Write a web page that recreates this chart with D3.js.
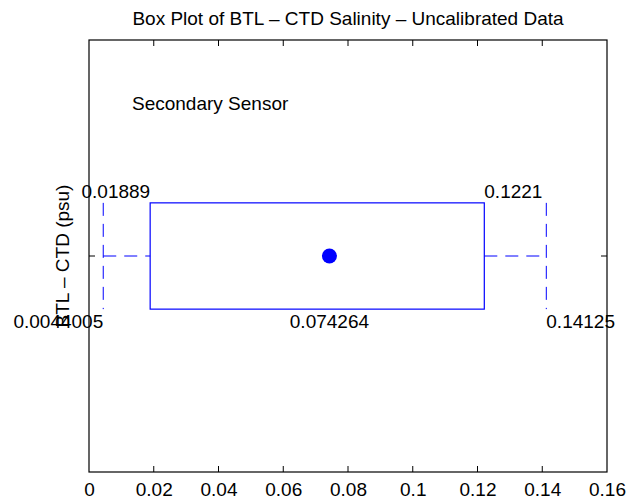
<!DOCTYPE html>
<html>
<head>
<meta charset="utf-8">
<script src="https://cdn.jsdelivr.net/npm/d3@7"></script>
<style>
  body { margin: 0; background: #fff; }
  svg text { font-family: "Liberation Sans", Arial, Helvetica, sans-serif; fill: #000; }
</style>
</head>
<body>
<div id="chart"></div>
<script>
const title = "Box Plot of BTL \u2013 CTD Salinity \u2013 Uncalibrated Data"
const yLabel = "BTL \u2013 CTD (psu)"
const sensorLabel = "Secondary Sensor"
const xTicks = [0, 0.02, 0.04, 0.06, 0.08, 0.1, 0.12, 0.14, 0.16]
const xTickLabels = ["0", "0.02", "0.04", "0.06", "0.08", "0.1", "0.12", "0.14", "0.16"]
const whiskerLow = 0.0044005
const quartileLow = 0.01889
const centerValue = 0.074264
const quartileHigh = 0.1221
const whiskerHigh = 0.14125
const statLabels = ["0.0044005", "0.01889", "0.074264", "0.1221", "0.14125"]

const width = 643
const height = 502
const margin = { top: 40, right: 36, bottom: 30, left: 89 }
const fontSize = 19
const blue = "#0000ff"

const svg = d3.select("#chart").append("svg")
  .attr("width", width)
  .attr("height", height)

const x = d3.scaleLinear().domain([0, 0.16]).range([margin.left, width - margin.right])
const y = d3.scaleLinear().domain([0, 1]).range([height - margin.bottom, margin.top])

const rowY = 0.5
const halfBox = 0.123

// axes box
svg.append("rect")
  .attr("x", x(0)).attr("y", y(1))
  .attr("width", x(0.16) - x(0)).attr("height", y(0) - y(1))
  .attr("fill", "none").attr("stroke", "#000").attr("stroke-width", 1.2)

const tickLen = 6
const bottomAxis = d3.axisBottom(x).tickValues(xTicks).tickSize(0).tickFormat((d, i) => xTickLabels[i]).tickPadding(11)
const gx = svg.append("g").attr("transform", `translate(0,${y(0)})`).call(bottomAxis)
gx.select(".domain").remove()
gx.selectAll("text").attr("font-size", fontSize).attr("font-family", null)

// inward ticks top & bottom
svg.append("g").selectAll("line")
  .data(xTicks.slice(1, -1))
  .join("line")
  .attr("x1", d => x(d)).attr("x2", d => x(d))
  .attr("y1", y(0)).attr("y2", y(0) - tickLen)
  .attr("stroke", "#000")
svg.append("g").selectAll("line")
  .data(xTicks.slice(1, -1))
  .join("line")
  .attr("x1", d => x(d)).attr("x2", d => x(d))
  .attr("y1", y(1)).attr("y2", y(1) + tickLen)
  .attr("stroke", "#000")

// y tick at row position, left & right
svg.append("g").selectAll("line")
  .data([[x(0), 1], [x(0.16), -1]])
  .join("line")
  .attr("x1", d => d[0]).attr("x2", d => d[0] + d[1] * tickLen)
  .attr("y1", y(rowY)).attr("y2", y(rowY))
  .attr("stroke", "#000")

// title
svg.append("text")
  .attr("x", (x(0) + x(0.16)) / 2).attr("y", 25)
  .attr("text-anchor", "middle").attr("font-size", fontSize)
  .text(title)

// y label
svg.append("text")
  .attr("transform", `translate(69,${y(rowY)}) rotate(-90)`)
  .attr("text-anchor", "middle").attr("font-size", fontSize)
  .text(yLabel)

svg.append("text")
  .attr("x", 132).attr("y", 110)
  .attr("font-size", fontSize)
  .text(sensorLabel)

const dash = "13,8"
const plot = svg.append("g")

// whiskers horizontal
plot.selectAll("line.wh")
  .data([[whiskerLow, quartileLow], [quartileHigh, whiskerHigh]])
  .join("line")
  .attr("class", "wh")
  .attr("x1", d => x(d[0])).attr("x2", d => x(d[1]))
  .attr("y1", y(rowY)).attr("y2", y(rowY))
  .attr("stroke", blue).attr("stroke-dasharray", dash)

// whisker caps vertical
plot.selectAll("line.cap")
  .data([whiskerLow, whiskerHigh])
  .join("line")
  .attr("class", "cap")
  .attr("x1", d => x(d)).attr("x2", d => x(d))
  .attr("y1", y(rowY + halfBox)).attr("y2", y(rowY - halfBox))
  .attr("stroke", blue).attr("stroke-dasharray", dash)

// box
plot.append("rect")
  .attr("x", x(quartileLow)).attr("y", y(rowY + halfBox))
  .attr("width", x(quartileHigh) - x(quartileLow))
  .attr("height", y(rowY - halfBox) - y(rowY + halfBox))
  .attr("fill", "none").attr("stroke", blue).attr("stroke-width", 1.2)

plot.append("circle")
  .attr("cx", x(centerValue)).attr("cy", y(rowY)).attr("r", 7.5)
  .attr("fill", blue)

// value labels
const labelData = [
  { v: whiskerLow, t: statLabels[0], anchor: "end", top: false },
  { v: quartileLow, t: statLabels[1], anchor: "end", top: true },
  { v: centerValue, t: statLabels[2], anchor: "middle", top: false },
  { v: quartileHigh, t: statLabels[3], anchor: "start", top: true },
  { v: whiskerHigh, t: statLabels[4], anchor: "start", top: false }
]
svg.append("g").selectAll("text")
  .data(labelData)
  .join("text")
  .attr("x", d => x(d.v))
  .attr("y", d => d.top ? y(rowY + halfBox) - 5 : y(rowY - halfBox) + 19)
  .attr("text-anchor", d => d.anchor)
  .attr("font-size", fontSize)
  .text(d => d.t)
</script>
</body>
</html>
